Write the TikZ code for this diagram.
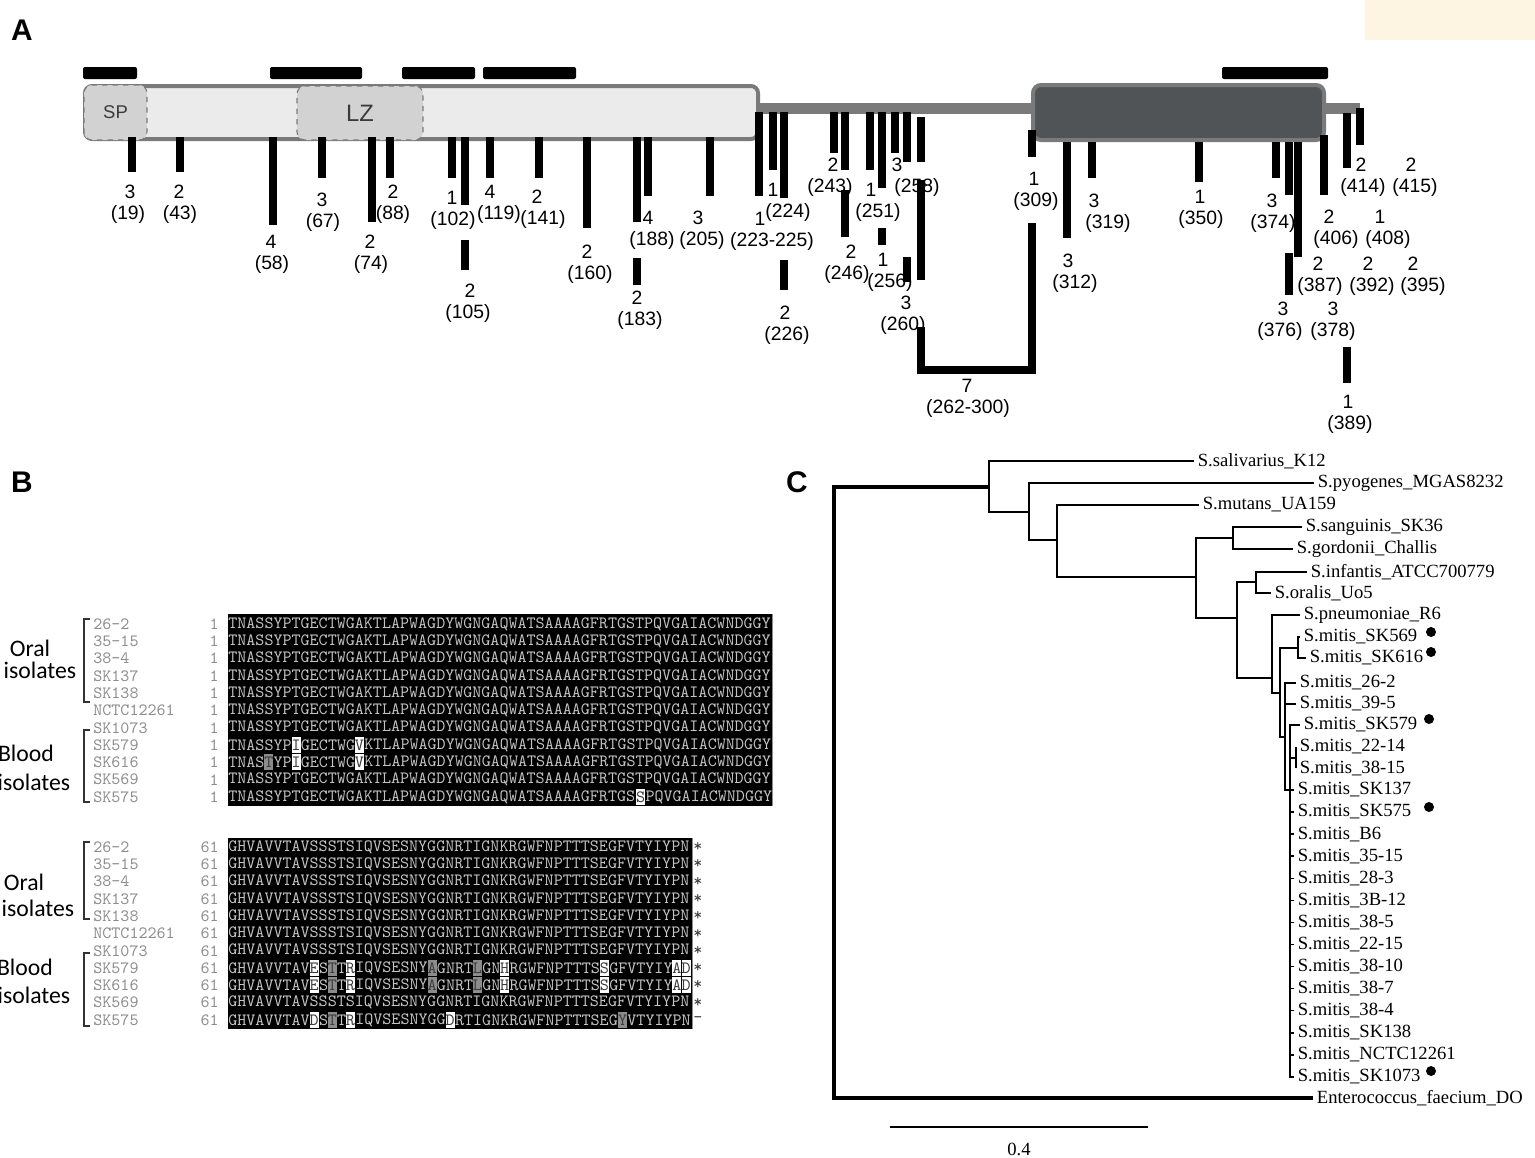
\documentclass[tikz,border=0pt]{standalone}
\usepackage{fontspec}
\newfontfamily\arialf{Liberation Sans}
\newfontfamily\timesf{Liberation Serif}
\newfontfamily\calibf{Carlito}
\definecolor{boxgray}{HTML}{7A7A7A}
\definecolor{lightbox}{HTML}{EBEBEB}
\definecolor{darkbox}{HTML}{505456}
\definecolor{subgray}{HTML}{D2D2D2}
\definecolor{textgray}{HTML}{3A3A3A}
\definecolor{seqgray}{HTML}{C4C4C4}
\definecolor{namegray}{HTML}{8C8C8C}
\definecolor{hlgray}{HTML}{8C8C8C}
\definecolor{hltext}{HTML}{3C3C3C}
\definecolor{cream}{HTML}{FDF5E2}
\tikzset{
  num/.style={font=\arialf\fontsize{11}{13}\selectfont, inner sep=0pt},
  tick/.style={line width=0.15cm},
  subdom/.style={draw=boxgray, dashed, line width=0.6pt, fill=subgray, rounded corners=0.16cm, inner sep=0pt, text=textgray},
  seqfont/.style={font=\ttfamily\fontsize{9.8}{10}\selectfont},
  seq/.style={seqfont, text=seqgray, anchor=west, inner sep=0pt},
  strain/.style={seqfont, text=namegray, anchor=west, inner sep=0pt},
  idx/.style={seqfont, text=namegray, anchor=east, inner sep=0pt},
  hw/.style={seqfont, fill=white, text=hltext, minimum width=0.18cm, minimum height=0.32cm, inner sep=0pt},
  hg/.style={seqfont, fill=hlgray, text=hltext, minimum width=0.18cm, minimum height=0.32cm, inner sep=0pt},
  grp/.style={font=\calibf\fontsize{13.5}{15}\selectfont, inner sep=0pt},
  brk/.style={draw=black!80, line width=0.8pt},
  leaf/.style={font=\timesf\fontsize{10.6}{12}\selectfont, anchor=west, inner xsep=2pt, inner ysep=1pt},
  branch/.style={line width=1.4pt},
  twig/.style={line width=0.8pt},
  blood/.style={circle, fill=black, inner sep=0pt, minimum size=0.2cm},
  panel/.style={font=\arialf\bfseries\fontsize{17}{17}\selectfont, inner sep=0pt}
}
\newcommand\site[5]{%
  \node[num] (n#5) at (#1,#3-11.5) {#4};
  \node[num] (p#5) at (#2,#3+11.5) {(#5)};}
\newcommand\res[5]{\node[#1] (#5) at ({228+(#2-0.5)*9.07},#3) {#4};}
\newcommand\seg[4]{\node[seq] (#4) at ({228+(#1-1)*9.07},#2) {#3};}

\begin{document}
\begin{tikzpicture}[x=0.02cm,y=-0.02cm]
\useasboundingbox (0,0) rectangle (1535,1157);
\fill[cream] (1365,0) rectangle (1535,40);

\node[panel] (pA) at (22,30) {A};
\node[panel] (pB) at (22,482) {B};
\node[panel] (pC) at (797,482) {C};

\foreach \a/\b in {83/137, 270/362, 402/475, 483/576, 1222/1328}
  \fill[rounded corners=0.04cm] (\a,67) rectangle (\b,79);
\fill[boxgray] (750,103) rectangle (1360,114);
\draw[line width=0.08cm, draw=boxgray, fill=lightbox, rounded corners=0.14cm] (85,86) rectangle (758,139);
\node[subdom, minimum width=1.26cm, minimum height=1.1cm, font=\arialf\fontsize{10.5}{12}\selectfont] (sp) at (115.5,112.5) {SP};
\node[subdom, minimum width=2.52cm, minimum height=1.08cm, font=\arialf\fontsize{13.5}{15}\selectfont] (lz) at (360,113) {LZ};
\draw[line width=0.08cm, draw=boxgray, fill=darkbox, rounded corners=0.16cm] (1033,85) rectangle (1324,140);

\foreach \xn/\xp/\ym/\n/\ps in {130/128/203/3/19, 179/180/203/2/43, 271/272/253/4/58, 322/323/211/3/67,
  370/371/253/2/74, 393/393/203/2/88, 452/453/209/1/102, 470/468/302/2/105, 490/499/203/4/119,
  537/543/208/2/141, 587/590/263/2/160, 637/640/309/2/183, 648/652/229/4/188, 698/702/229/3/205,
  760/772/230/1/223-225, 773/788/201/1/224, 785/787/324/2/226, 833/830/176/2/243, 851/847/263/2/246,
  871/878/201/1/251, 883/890/271/1/256, 897/917/176/3/258, 906/903/314/3/260, 967/968/397/7/262-300,
  1034/1036/190/1/309, 1068/1075/272/3/312, 1094/1108/212/3/319, 1200/1201/208/1/350, 1272/1273/212/3/374,
  1283/1280/320/3/376, 1333/1333/320/3/378, 1318/1320/275/2/387, 1368/1372/275/2/392, 1413/1423/275/2/395,
  1329/1336/228/2/406, 1380/1388/228/1/408, 1361/1363/176/2/414, 1411/1415/176/2/415, 1348/1350/413/1/389}
  {\site{\xn}{\xp}{\ym}{\n}{\ps}}

\foreach \x/\a/\b in {132/137/172, 180/137/172, 273/137/225, 322/137/178, 372/137/222, 390/137/178,
  452/137/178, 465/137/205, 465/240/270, 490/137/178, 539/137/178, 587/137/228, 637/137/222, 637/258/285,
  648/137/196, 710/137/196, 759/112/196, 773/112/170, 784/112/198, 784/260/290, 834/112/153, 845/112/170,
  845/190/237, 870/112/170, 882/112/188, 882/228/245, 895/112/153, 907/112/162, 907/257/282, 921/117/162,
  921/180/280, 1032/130/157, 1067/142/238, 1092/142/178, 1199/142/182, 1276/142/178, 1289/142/195,
  1289/253/295, 1298/142/257, 1324/135/195, 1347/113/168, 1360/108/145, 1347/347/383}
  \draw[tick] (\x,\a) -- (\x,\b);
\draw[tick, line join=miter] (921,327) -- (921,370) -- (1032,370) -- (1032,223);

\fill[black] (228,614) rectangle (772,806);
\draw[namegray, line width=0.5pt] (772,614) -- (772,806);
\foreach \nm [count=\i from 0] in {26-2,35-15,38-4,SK137,SK138,NCTC12261,SK1073,SK579,SK616,SK569,SK575}{
  \node[strain] (ta\i) at (93,{624+17.3*\i}) {\nm};
  \node[idx] (ka\i) at (219,{624+17.3*\i}) {1};
}
\foreach \i in {0,...,6,9}
  \node[seq] (qa\i) at (228,{624+17.3*\i}) {TNASSYPTGECTWGAKTLAPWAGDYWGNGAQWATSAAAAGFRTGSTPQVGAIACWNDGGY};
\seg{1}{745.1}{TNASSYP}{qa7a}
\res{hw}{8}{745.1}{I}{a7i}
\seg{9}{745.1}{GECTWG}{qa7b}
\res{hw}{15}{745.1}{V}{a7v}
\seg{16}{745.1}{KTLAPWAGDYWGNGAQWATSAAAAGFRTGSTPQVGAIACWNDGGY}{qa7c}
\seg{1}{762.4}{TNAS}{qa8a}
\res{hg}{5}{762.4}{T}{a8t}
\seg{6}{762.4}{YP}{qa8b}
\res{hw}{8}{762.4}{I}{a8i}
\seg{9}{762.4}{GECTWG}{qa8c}
\res{hw}{15}{762.4}{V}{a8v}
\seg{16}{762.4}{KTLAPWAGDYWGNGAQWATSAAAAGFRTGSTPQVGAIACWNDGGY}{qa8d}
\seg{1}{797}{TNASSYPTGECTWGAKTLAPWAGDYWGNGAQWATSAAAAGFRTGS}{qa10a}
\res{hw}{46}{797}{S}{a10s}
\seg{47}{797}{PQVGAIACWNDGGY}{qa10b}

\fill[black] (228,838) rectangle (692,1029);
\draw[namegray, line width=0.5pt] (692,838) -- (692,1029);
\foreach \nm/\e [count=\i from 0] in {26-2/*,35-15/*,38-4/*,SK137/*,SK138/*,NCTC12261/*,SK1073/*,SK579/*,SK616/*,SK569/*,SK575/-}{
  \node[strain] (tb\i) at (93,{847+17.3*\i}) {\nm};
  \node[idx] (kb\i) at (219,{847+17.3*\i}) {61};
  \node[strain, text=hltext] (eb\i) at (693,{847+17.3*\i}) {\e};
}
\foreach \i in {0,...,6,9}
  \node[seq] (qb\i) at (228,{847+17.3*\i}) {GHVAVVTAVSSSTSIQVSESNYGGNRTIGNKRGWFNPTTTSEGFVTYIYPN};
\foreach \r/\y in {7/968.1, 8/985.4}{
  \seg{1}{\y}{GHVAVVTAV}{qb\r a}
  \res{hw}{10}{\y}{E}{b\r e}
  \seg{11}{\y}{S}{qb\r b}
  \res{hg}{12}{\y}{T}{b\r t}
  \seg{13}{\y}{T}{qb\r c}
  \res{hw}{14}{\y}{R}{b\r r}
  \seg{15}{\y}{IQVSESNY}{qb\r d}
  \res{hg}{23}{\y}{A}{b\r a}
  \seg{24}{\y}{GNRT}{qb\r e}
  \res{hg}{28}{\y}{L}{b\r l}
  \seg{29}{\y}{GN}{qb\r f}
  \res{hw}{31}{\y}{H}{b\r h}
  \seg{32}{\y}{RGWFNPTTTS}{qb\r g}
  \res{hw}{42}{\y}{S}{b\r s}
  \seg{43}{\y}{GFVTYIY}{qb\r h}
  \res{hw}{50}{\y}{A}{b\r x}
  \res{hw}{51}{\y}{D}{b\r d}
}
\seg{1}{1020}{GHVAVVTAV}{qb10a}
\res{hw}{10}{1020}{D}{b10d}
\seg{11}{1020}{S}{qb10b}
\res{hg}{12}{1020}{T}{b10t}
\seg{13}{1020}{T}{qb10c}
\res{hw}{14}{1020}{R}{b10r}
\seg{15}{1020}{IQVSESNYGG}{qb10d}
\res{hw}{25}{1020}{D}{b10n}
\seg{26}{1020}{RTIGNKRGWFNPTTTSEG}{qb10e}
\res{hg}{44}{1020}{Y}{b10y}
\seg{45}{1020}{VTYIYPN}{qb10f}

\draw[brk] (90,619) -- (84,619) -- (84,702) -- (90,702);
\draw[brk] (90,730) -- (84,730) -- (84,802) -- (90,802);
\draw[brk] (90,842) -- (84,842) -- (84,919) -- (90,919);
\draw[brk] (90,953) -- (84,953) -- (84,1026) -- (90,1026);
\node[grp] (oralA) at (30,648) {Oral};
\node[grp] (isoA) at (40,670) {isolates};
\node[grp] (bloodA) at (26,753) {Blood};
\node[grp] (isoB) at (34,782) {isolates};
\node[grp] (oralB) at (24,882) {Oral};
\node[grp] (isoC) at (38,908) {isolates};
\node[grp] (bloodB) at (25,967) {Blood};
\node[grp] (isoD) at (34,995) {isolates};

\coordinate (R) at (834,790);
\coordinate (A) at (989,487);
\coordinate (B) at (1029,512);
\coordinate (C) at (1057,540);
\coordinate (D) at (1196,577);
\coordinate (E) at (1233,538);
\coordinate (F) at (1237,618);
\coordinate (G) at (1256,582);
\coordinate (H) at (1272,678);
\coordinate (I) at (1280,693);
\coordinate (J) at (1298,648);
\coordinate (K) at (1285,737);
\coordinate (L) at (1290,790);
\coordinate (M) at (1296,758);
\node[leaf] (sal) at (1194,461) {S.salivarius\_K12};
\node[leaf] (pyo) at (1314,483) {S.pyogenes\_MGAS8232};
\node[leaf] (mut) at (1199,505) {S.mutans\_UA159};
\node[leaf] (san) at (1302,527) {S.sanguinis\_SK36};
\node[leaf] (gor) at (1293,549) {S.gordonii\_Challis};
\node[leaf] (inf) at (1307,572) {S.infantis\_ATCC700779};
\node[leaf] (ora) at (1271,593) {S.oralis\_Uo5};
\node[leaf] (pne) at (1300,615) {S.pneumoniae\_R6};
\node[leaf] (m569) at (1300,637) {S.mitis\_SK569};
\node[leaf] (m616) at (1306,658) {S.mitis\_SK616};
\node[leaf] (m262) at (1296,683) {S.mitis\_26-2};
\node[leaf] (m395) at (1296,704) {S.mitis\_39-5};
\node[leaf] (m579) at (1300,725) {S.mitis\_SK579};
\node[leaf] (m2214) at (1296,747) {S.mitis\_22-14};
\node[leaf] (m3815) at (1296,768) {S.mitis\_38-15};
\node[leaf] (m137) at (1294,790) {S.mitis\_SK137};
\node[leaf] (ent) at (1313,1098) {Enterococcus\_faecium\_DO};
\draw[branch, line width=2pt] (R) |- (A);
\draw[branch, line width=2.2pt] (R) |- (ent);
\foreach \p/\c in {A/sal, A/B, B/pyo, B/C, C/mut, C/D, D/E, D/F, E/san, E/gor, F/G, F/H,
  G/inf, G/ora, H/pne, H/I, I/J, I/K}
  \draw[branch] (\p) |- (\c);
\foreach \p/\c in {J/m569, J/m616, K/m262, K/m395, K/L, L/m579, L/M, M/m2214, M/m3815, L/m137}
  \draw[twig] (\p) |- (\c);
\foreach \s [count=\k from 0] in {SK575,B6,35-15,28-3,3B-12,38-5,22-15,38-10,38-7,38-4,SK138,NCTC12261,SK1073}{
  \node[leaf] (mm\k) at (1294,{812+22.08*\k}) {S.mitis\_\s};
  \draw[twig] (L) |- (mm\k);
}
\node[blood] (d569) at (1431,632) {};
\node[blood] (d616) at (1431,652) {};
\node[blood] (d579) at (1429,719) {};
\node[blood] (d575) at (1429,807) {};
\node[blood] (d1073) at (1431,1071) {};
\coordinate (s0) at (890,1127);
\coordinate (s1) at (1148,1127);
\draw[line width=1.5pt] (s0) -- (s1);
\node[leaf, anchor=center] (sbl) at (1019,1149) {0.4};
\end{tikzpicture}
\end{document}
